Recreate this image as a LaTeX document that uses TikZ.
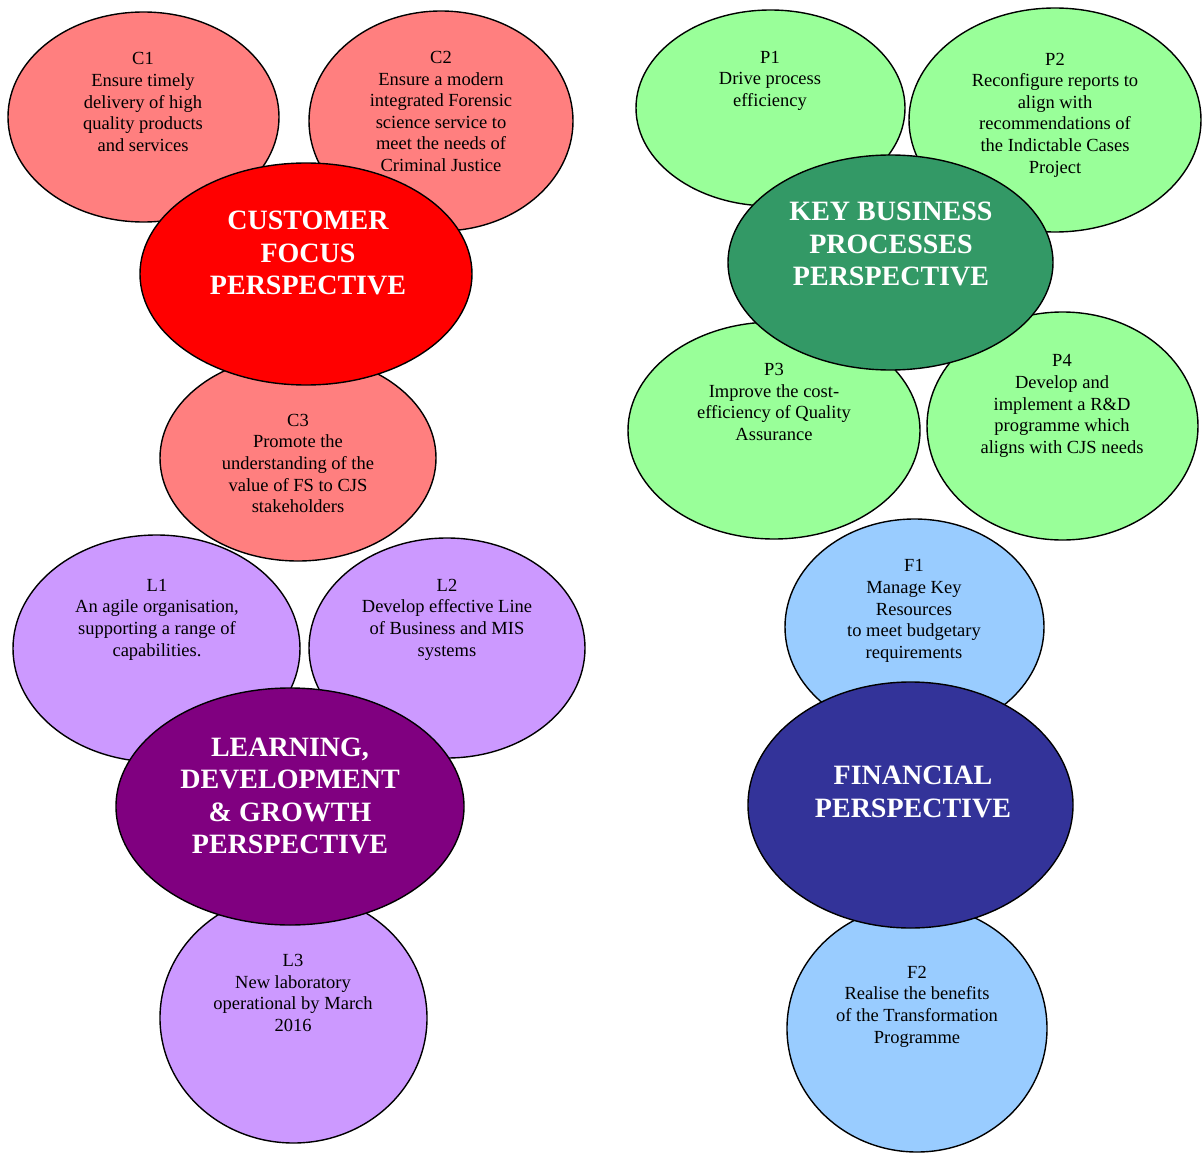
\documentclass[tikz,border=0pt]{standalone}
\usepackage{fontspec}
\setmainfont{Liberation Serif}
\usetikzlibrary{shapes.geometric}
\definecolor{custLight}{HTML}{FF7F7F}
\definecolor{custDark}{HTML}{FF0000}
\definecolor{procLight}{HTML}{99FF99}
\definecolor{procDark}{HTML}{339966}
\definecolor{learnLight}{HTML}{CC99FF}
\definecolor{learnDark}{HTML}{800080}
\definecolor{finLight}{HTML}{99CCFF}
\definecolor{finDark}{HTML}{333399}
\tikzset{
  bubble/.style={ellipse, draw=black, line width=1.4pt, inner sep=0pt},
  childtext/.style={align=center, font=\fontsize{18.5}{21.6}\selectfont, text=black},
  headtext/.style={align=center, font=\fontsize{28}{32.5}\selectfont\bfseries, text=white},
}
\newcommand{\bub}[6]{%
  % name, x, y, x radius, y radius, fill colour
  \node[bubble, fill=#6, minimum width=#4*2pt, minimum height=#5*2pt] (#1) at (#2,#3) {};}
\begin{document}
\begin{tikzpicture}[x=1pt,y=-1pt]
\useasboundingbox (0,0) rectangle (1202,1153);

% ---- customer focus ----
\bub{c1}{143.5}{117}{135.5}{105}{custLight}
\bub{c2}{441}{121}{132}{110}{custLight}
\bub{c3}{298}{458}{138}{103}{custLight}
\bub{cust}{306}{274}{166}{111}{custDark}
\node[childtext] (c1t) at (143,102) {C1\\Ensure timely\\delivery of high\\quality products\\and services};
\node[childtext] (c2t) at (441,111.5) {C2\\Ensure a modern\\integrated Forensic\\science service to\\meet the needs of\\Criminal Justice};
\node[childtext] (c3t) at (298,463.5) {C3\\Promote the\\understanding of the\\value of FS to CJS\\stakeholders};
\node[headtext] (custt) at (308,253) {CUSTOMER\\FOCUS\\PERSPECTIVE};

% ---- key business processes ----
\bub{p1}{770.5}{108}{134.5}{98}{procLight}
\bub{p2}{1055}{120}{146}{112}{procLight}
\bub{p3}{774}{430.5}{146}{108.5}{procLight}
\bub{p4}{1062.5}{426}{135.5}{114}{procLight}
\bub{kbp}{890.5}{262.5}{162.5}{107.5}{procDark}
\node[childtext] (p1t) at (770,80.5) {P1\\Drive process\\efficiency};
\node[childtext] (p2t) at (1055,115) {P2\\Reconfigure reports to\\align with\\recommendations of\\the Indictable Cases\\Project};
\node[childtext] (p3t) at (774,402) {P3\\Improve the cost-\\efficiency of Quality\\Assurance};
\node[childtext] (p4t) at (1062,406) {P4\\Develop and\\implement a R\&D\\programme which\\aligns with CJS needs};
\node[headtext] (kbpt) at (891,244) {KEY BUSINESS\\PROCESSES\\PERSPECTIVE};

% ---- learning, development & growth ----
\bub{l1}{156.5}{648.5}{143.5}{113.5}{learnLight}
\bub{l2}{447}{648}{138}{110}{learnLight}
\bub{l3}{293.5}{1018}{133.5}{125}{learnLight}
\bub{learn}{290}{806.5}{174}{118.5}{learnDark}
\node[childtext] (l1t) at (157,619.5) {L1\\An agile organisation,\\supporting a range of\\capabilities.};
\node[childtext] (l2t) at (447,619.5) {L2\\Develop effective Line\\of Business and MIS\\systems};
\node[childtext] (l3t) at (293,993) {L3\\New laboratory\\operational by March\\2016};
\node[headtext] (learnt) at (290,796) {LEARNING,\\DEVELOPMENT\\\& GROWTH\\PERSPECTIVE};

% ---- financial ----
\bub{f1}{914.5}{627}{129.5}{108}{finLight}
\bub{f2}{917}{1028.5}{130}{123.5}{finLight}
\bub{fin}{910.5}{805}{162.5}{123}{finDark}
\node[childtext] (f1t) at (914,611) {F1\\Manage Key\\Resources\\to meet budgetary\\requirements};
\node[childtext] (f2t) at (917,1006.5) {F2\\Realise the benefits\\of the Transformation\\Programme};
\node[headtext] (fint) at (913,792) {FINANCIAL\\PERSPECTIVE};
\end{tikzpicture}
\end{document}
